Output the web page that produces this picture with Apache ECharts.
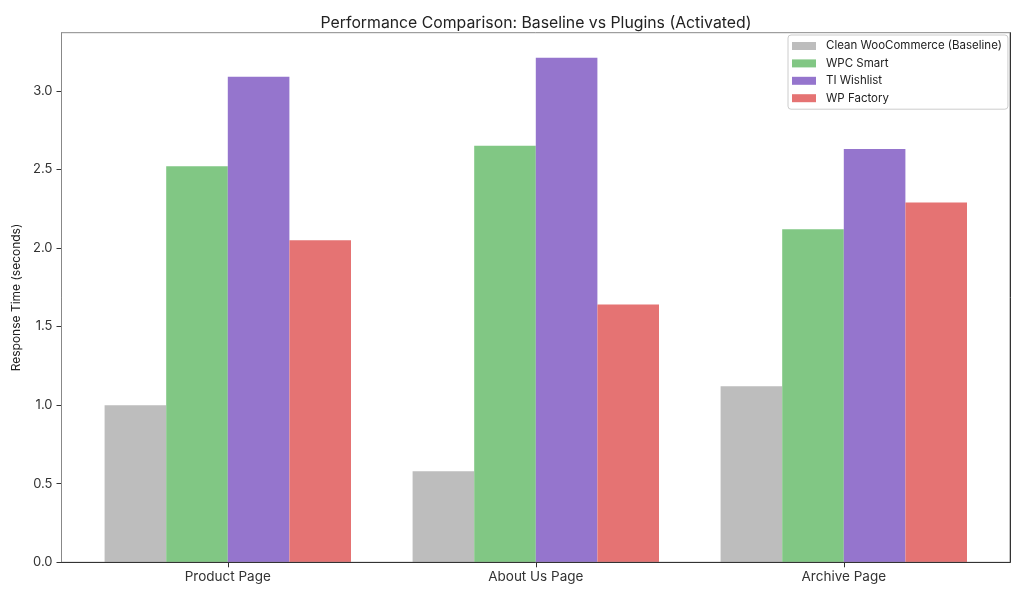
<!DOCTYPE html>
<html>
<head>
<meta charset="utf-8">
<script src="https://cdn.jsdelivr.net/npm/echarts@6/dist/echarts.min.js"></script>
<style>
html,body{margin:0;padding:0;background:#fff;}
#chart{width:1024px;height:597px;}
</style>
</head>
<body>
<div id="chart"></div>
<script>
const categories = ['Product Page', 'About Us Page', 'Archive Page'];
const seriesNames = ['Clean WooCommerce (Baseline)', 'WPC Smart', 'TI Wishlist', 'WP Factory'];
const baseline = [1.00, 0.58, 1.12];
const wpcSmart = [2.52, 2.65, 2.12];
const tiWishlist = [3.09, 3.21, 2.63];
const wpFactory = [2.05, 1.64, 2.29];
const yTicks = [0, 0.5, 1.0, 1.5, 2.0, 2.5, 3.0];
const colors = ['#bdbdbd', '#81c784', '#9575cd', '#e57373'];
const yMax = 3.37;

const values = [baseline, wpcSmart, tiWishlist, wpFactory];
const font = 'Inter, Roboto, "DejaVu Sans", sans-serif';

const chart = echarts.init(document.getElementById('chart'), null, {renderer: 'canvas'});
chart.setOption({
  animation: false,
  backgroundColor: '#fff',
  textStyle: {fontFamily: font},
  title: {
    text: 'Performance Comparison: Baseline vs Plugins (Activated)',
    left: 531, top: 10, textAlign: 'center',
    textStyle: {fontSize: 15.8, fontWeight: 'normal', color: '#222', fontFamily: font}
  },
  legend: {
    orient: 'vertical',
    left: 788, top: 35,
    padding: [5, 6, 5, 4],
    itemWidth: 24, itemHeight: 8,
    itemGap: 5.4,
    borderColor: '#cccccc', borderWidth: 1, borderRadius: 3,
    icon: 'rect',
    textStyle: {fontSize: 11.5, color: '#222', lineHeight: 12, padding: [0, 0, 0, 5], fontFamily: font},
    data: seriesNames
  },
  grid: [
    {left: 73.8, right: 26.2, top: 32.7, bottom: 34.7},
    {left: 61.5, right: 14, top: 32.7, bottom: 34.7, show: true, borderColor: '#888', borderWidth: 1, z: 10}
  ],
  xAxis: [
    {
      type: 'category', gridIndex: 0, data: categories,
      axisLine: {show: false},
      axisTick: {show: true, alignWithLabel: true, length: 5, lineStyle: {color: '#333'}},
      axisLabel: {fontSize: 13.5, color: '#333', margin: 8, fontFamily: font},
      splitLine: {show: false}
    },
    {
      type: 'value', gridIndex: 1, min: 0, max: 1,
      axisLine: {show: true, onZero: false, lineStyle: {color: '#333'}},
      axisTick: {show: false}, axisLabel: {show: false}, splitLine: {show: false}, z: 11
    }
  ],
  yAxis: [
    {
      type: 'value', gridIndex: 0, min: 0, max: yMax, show: false, splitLine: {show: false}
    },
    {
      type: 'value', gridIndex: 1, min: 0, max: yMax,
      name: 'Response Time (seconds)', nameLocation: 'middle', nameGap: 37,
      nameTextStyle: {fontSize: 12, color: '#222', fontFamily: font},
      axisLine: {show: true, lineStyle: {color: '#888'}},
      axisTick: {show: true, length: 5, customValues: yTicks, lineStyle: {color: '#333'}},
      axisLabel: {fontSize: 13, color: '#333', margin: 9, customValues: yTicks,
        formatter: v => Number(v).toFixed(1), fontFamily: font},
      splitLine: {show: false}
    },
    {
      type: 'value', gridIndex: 1, min: 0, max: yMax, position: 'right',
      axisLine: {show: true, lineStyle: {color: '#333'}},
      axisTick: {show: false}, axisLabel: {show: false}, splitLine: {show: false}, z: 11
    }
  ],
  series: seriesNames.map((name, i) => ({
    name: name, type: 'bar', xAxisIndex: 0, yAxisIndex: 0,
    data: values[i],
    barGap: '0%', barCategoryGap: '20%',
    itemStyle: {color: colors[i]},
    emphasis: {disabled: true}
  }))
});
</script>
</body>
</html>
